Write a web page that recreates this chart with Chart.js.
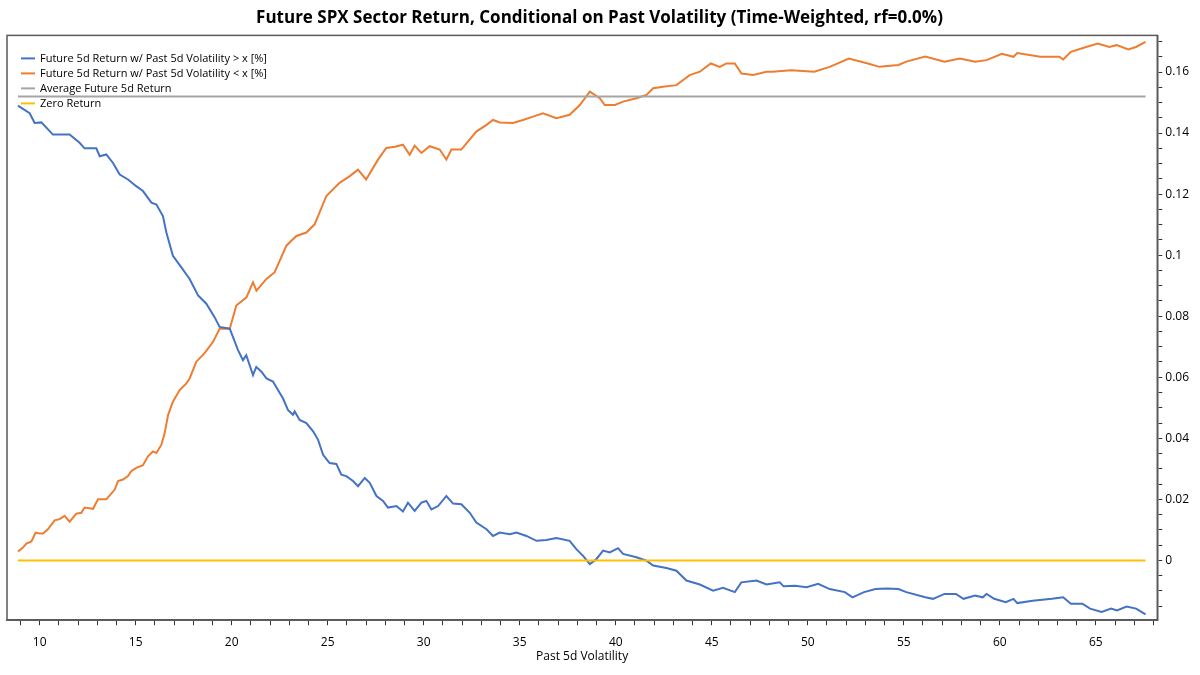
<!DOCTYPE html>
<html>
<head>
<meta charset="utf-8">
<title>Future SPX Sector Return</title>
<script src="https://cdn.jsdelivr.net/npm/chart.js@4.4.1/dist/chart.umd.min.js"></script>
<style>
  html, body { margin: 0; padding: 0; background: #fff; }
  #wrap { width: 1200px; height: 675px; position: relative; }
</style>
</head>
<body>
<div id="wrap"><canvas id="vol-chart"></canvas></div>
<script>
// past 5d volatility (x) and future 5d return when past vol > x
const aboveX = [8.87, 9.48, 9.74, 10.09, 10.69, 11.13, 11.56, 12.08, 12.34, 12.95, 13.13, 13.47, 13.82, 14.17,
  14.6, 15.03, 15.38, 15.82, 16.08, 16.42, 16.6, 16.94, 17.38, 17.81, 18.25, 18.68, 19.11, 19.37, 19.9, 20.33,
  20.59, 20.76, 21.11, 21.28, 21.55, 21.81, 22.15, 22.41, 22.67, 22.93, 23.19, 23.28, 23.54, 23.89, 24.24, 24.5,
  24.76, 25.1, 25.45, 25.71, 25.97, 26.32, 26.58, 26.93, 27.19, 27.54, 27.88, 28.14, 28.58, 28.92, 29.18, 29.53,
  29.88, 30.14, 30.4, 30.75, 31.18, 31.53, 31.96, 32.4, 32.74, 33.27, 33.61, 33.96, 34.48, 34.83, 35.35, 35.87,
  36.39, 36.91, 37.6, 37.95, 38.3, 38.65, 38.99, 39.34, 39.69, 40.12, 40.38, 41.08, 41.6, 41.95, 42.64, 43.16,
  43.68, 44.38, 45.07, 45.59, 46.2, 46.54, 47.33, 47.85, 48.54, 48.74, 49.34, 49.94, 50.54, 51.14, 51.93, 52.33,
  52.93, 53.53, 54.1, 54.72, 55.13, 56.12, 56.52, 57.12, 57.71, 58.11, 58.71, 59.11, 59.31, 59.71, 60.31, 60.71,
  60.91, 61.71, 62.71, 63.3, 63.7, 64.3, 64.7, 65.3, 65.8, 66.1, 66.6, 67.1, 67.59];
const aboveRet = [0.149, 0.1465, 0.1433, 0.1435, 0.1395, 0.1395, 0.1395, 0.1368, 0.135, 0.135, 0.1324, 0.133, 0.1302, 0.1264,
  0.1248, 0.1226, 0.121, 0.1172, 0.1166, 0.1128, 0.1074, 0.0998, 0.096, 0.0922, 0.0868, 0.0841, 0.0797, 0.0765, 0.0759, 0.0689,
  0.0656, 0.0672, 0.0607, 0.0634, 0.0618, 0.0596, 0.0586, 0.0558, 0.0531, 0.0493, 0.0477, 0.0488, 0.046, 0.045, 0.0423, 0.0395,
  0.0346, 0.0319, 0.0316, 0.0281, 0.0276, 0.026, 0.0243, 0.027, 0.0254, 0.0211, 0.0195, 0.0173, 0.0178, 0.016, 0.0189, 0.0162,
  0.0189, 0.0195, 0.0167, 0.0178, 0.0211, 0.0186, 0.0184, 0.0156, 0.0124, 0.0102, 0.008, 0.0091, 0.0086, 0.0091, 0.008, 0.0064,
  0.0067, 0.0073, 0.0064, 0.0037, 0.0015, -0.0012, 0.0004, 0.0032, 0.0026, 0.004, 0.0021, 0.001, -0.0001, -0.0017, -0.0025, -0.0034,
  -0.0066, -0.0079, -0.0099, -0.009, -0.0104, -0.0072, -0.0066, -0.0079, -0.0072, -0.0085, -0.0083, -0.0088, -0.0077, -0.0094, -0.0104, -0.0121,
  -0.0104, -0.0094, -0.0092, -0.0094, -0.0104, -0.0121, -0.0126, -0.011, -0.011, -0.0126, -0.0115, -0.0121, -0.011, -0.0126, -0.0137, -0.0126,
  -0.014, -0.0132, -0.0126, -0.0121, -0.0142, -0.0142, -0.0158, -0.0169, -0.0158, -0.0164, -0.0151, -0.0158, -0.0177];

// future 5d return when past vol < x
const belowX = [8.87, 9.13, 9.31, 9.57, 9.79, 10.0, 10.17, 10.43, 10.78, 11.04, 11.3, 11.56, 11.91, 12.17, 12.34, 12.78,
  13.04, 13.47, 13.91, 14.08, 14.34, 14.6, 14.77, 15.03, 15.38, 15.64, 15.9, 16.08, 16.34, 16.51, 16.69, 16.94,
  17.29, 17.64, 17.81, 18.16, 18.6, 19.03, 19.37, 19.9, 20.24, 20.77, 21.11, 21.29, 21.81, 22.24, 22.85, 23.19,
  23.37, 23.89, 24.32, 24.93, 25.62, 26.15, 26.58, 27.0, 27.62, 28.05, 28.5, 28.92, 29.27, 29.53, 29.88, 30.31,
  30.83, 31.18, 31.44, 31.96, 32.31, 32.74, 33.27, 33.61, 33.96, 34.65, 35.17, 35.69, 36.21, 36.91, 37.6, 38.13,
  38.65, 39.17, 39.43, 39.96, 40.38, 41.08, 41.6, 41.95, 42.46, 43.16, 43.51, 43.85, 44.38, 44.95, 45.42, 45.76,
  46.2, 46.55, 47.15, 47.85, 48.15, 49.14, 50.34, 51.14, 52.14, 53.13, 53.73, 54.72, 55.13, 56.12, 57.12, 57.92,
  58.71, 59.31, 60.11, 60.71, 60.91, 62.11, 63.1, 63.3, 63.7, 64.5, 65.1, 65.7, 66.09, 66.69, 67.09, 67.59];
const belowRet = [0.0029, 0.0042, 0.0055, 0.0062, 0.0091, 0.0088, 0.0088, 0.0102, 0.0131, 0.0135, 0.0146, 0.0127, 0.0153, 0.0156, 0.0173, 0.0169,
  0.02, 0.02, 0.0232, 0.026, 0.0265, 0.0276, 0.0292, 0.0303, 0.0312, 0.0341, 0.0357, 0.0352, 0.0379, 0.0417, 0.0477, 0.052,
  0.0558, 0.058, 0.0596, 0.0651, 0.068, 0.0716, 0.0759, 0.0759, 0.0835, 0.0862, 0.0911, 0.0884, 0.0922, 0.0944, 0.1031, 0.1052,
  0.1063, 0.1074, 0.1101, 0.1194, 0.1237, 0.1259, 0.128, 0.1248, 0.1313, 0.1351, 0.1355, 0.1362, 0.1329, 0.1359, 0.1335, 0.1357,
  0.1346, 0.1313, 0.1346, 0.1346, 0.1373, 0.1405, 0.1427, 0.1443, 0.1435, 0.1433, 0.1443, 0.1454, 0.1465, 0.1449, 0.146, 0.1492,
  0.1536, 0.1514, 0.1492, 0.1492, 0.1503, 0.1514, 0.1525, 0.1547, 0.1552, 0.1557, 0.1574, 0.159, 0.1601, 0.1628, 0.1617, 0.1628,
  0.1628, 0.1595, 0.159, 0.1601, 0.1601, 0.1606, 0.1601, 0.1617, 0.1644, 0.1628, 0.1617, 0.1623, 0.1634, 0.1651, 0.1634, 0.1644,
  0.1634, 0.1639, 0.166, 0.165, 0.1662, 0.165, 0.165, 0.1641, 0.1666, 0.1682, 0.1693, 0.1682, 0.1688, 0.1674, 0.1682, 0.1699];

const avgReturn = 0.152;
const zeroReturn = 0;
const seriesNames = [
  'Future 5d Return w/ Past 5d Volatility > x [%]',
  'Future 5d Return w/ Past 5d Volatility < x [%]',
  'Average Future 5d Return',
  'Zero Return',
];
const seriesColors = ['#4472C4', '#ED7D31', '#A5A5A5', '#FFC000'];

function initVolChart() {
  'use strict';

  Chart.defaults.font.family = "'Open Sans', 'Noto Sans', sans-serif";
  Chart.defaults.font.size = 12;
  Chart.defaults.color = '#000';

  const xFirst = aboveX[0];
  const xLast = aboveX[aboveX.length - 1];
  const toPts = (xs, ys) => xs.map((x, i) => ({ x: x, y: ys[i] }));
  const flat = (v) => [{ x: xFirst, y: v }, { x: xLast, y: v }];

  // box round the plot + legend inside the top-left corner
  const frameAndLegend = {
    id: 'frameAndLegend',
    afterDraw(chart) {
      const { ctx, chartArea: a } = chart;
      ctx.save();
      ctx.strokeStyle = '#5a5a5a';
      ctx.lineWidth = 1.5;
      ctx.strokeRect(a.left, a.top, a.right - a.left, a.bottom - a.top);

      ctx.font = "11px 'Open Sans', 'Noto Sans', sans-serif";
      ctx.textBaseline = 'middle';
      ctx.fillStyle = '#000';
      seriesNames.forEach((name, i) => {
        const y = a.top + 23 + i * 15;
        ctx.strokeStyle = seriesColors[i];
        ctx.lineWidth = 2;
        ctx.beginPath();
        ctx.moveTo(a.left + 14, y);
        ctx.lineTo(a.left + 28, y);
        ctx.stroke();
        ctx.fillText(name, a.left + 33, y);
      });
      ctx.restore();
    },
  };

  const ctx = document.getElementById('vol-chart');
  new Chart(ctx, {
    type: 'scatter',
    data: {
      datasets: [
        { label: seriesNames[2], data: flat(avgReturn), borderColor: seriesColors[2], borderWidth: 2 },
        { label: seriesNames[3], data: flat(zeroReturn), borderColor: seriesColors[3], borderWidth: 2 },
        { label: seriesNames[0], data: toPts(aboveX, aboveRet), borderColor: seriesColors[0], borderWidth: 2 },
        { label: seriesNames[1], data: toPts(belowX, belowRet), borderColor: seriesColors[1], borderWidth: 2 },
      ].map((d) => Object.assign(d, { showLine: true, pointRadius: 0, tension: 0, backgroundColor: d.borderColor })),
    },
    options: {
      responsive: true,
      maintainAspectRatio: false,
      animation: false,
      layout: { padding: { left: 7, right: 8, top: 0, bottom: 11 } },
      plugins: {
        legend: { display: false },
        tooltip: { enabled: false },
        title: {
          display: true,
          text: 'Future SPX Sector Return, Conditional on Past Volatility (Time-Weighted, rf=0.0%)',
          font: { size: 17, weight: 'bold' },
          color: '#000',
          padding: { top: 8, bottom: 7 },
        },
      },
      scales: {
        x: {
          type: 'linear',
          min: 8.3,
          max: 68.2,
          grid: { drawOnChartArea: false, tickLength: 5, color: '#333' },
          border: { color: '#5a5a5a', width: 1.5 },
          ticks: {
            stepSize: 1,
            includeBounds: false,
            autoSkip: false,
            maxRotation: 0,
            padding: 10,
            callback: (v) => (Math.abs(v % 5) < 1e-6 ? String(v) : ''),
          },
          title: { display: true, text: 'Past 5d Volatility', font: { size: 12 }, padding: { top: -10, bottom: 0 } },
        },
        y: {
          type: 'linear',
          position: 'right',
          min: -0.0196,
          max: 0.172,
          grid: { drawOnChartArea: false, tickLength: 5, color: '#333' },
          border: { color: '#5a5a5a', width: 1.5 },
          ticks: {
            stepSize: 0.005,
            includeBounds: false,
            autoSkip: false,
            padding: 3,
            callback: (v) => {
              const k = v / 0.02;
              return Math.abs(k - Math.round(k)) < 1e-6 ? String(+v.toFixed(3)) : '';
            },
          },
        },
      },
    },
    plugins: [frameAndLegend],
  });
}

window.addEventListener('load', initVolChart);
</script>
</body>
</html>
